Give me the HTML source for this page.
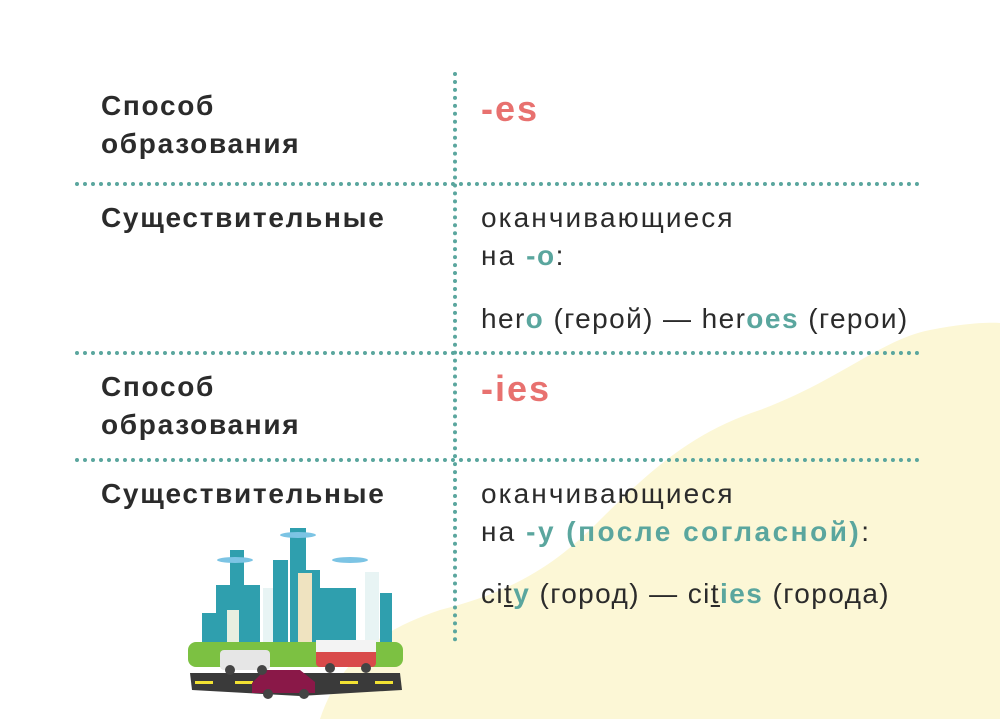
<!DOCTYPE html>
<html><head><meta charset="utf-8"><style>
body{margin:0;width:1000px;height:719px;background:#fff;position:relative;overflow:hidden;font-family:"Liberation Sans","DejaVu Sans",sans-serif;color:#2b2b2b}
.t{position:absolute;font-size:28px;line-height:38px;letter-spacing:2.1px;white-space:nowrap}
.b{font-weight:bold;letter-spacing:1.7px}
.r{color:#e8716f;font-weight:bold;font-size:36px;letter-spacing:2px}
.g{color:#5aa69e;font-weight:bold;letter-spacing:1.5px}
.g2{color:#5aa69e;font-weight:bold;letter-spacing:2.5px}
.s{letter-spacing:1.4px}
.hl{position:absolute;left:75px;width:845px;height:0;border-top:4px dotted #5aa69e}
.vl{position:absolute;left:453px;top:72px;height:570px;border-left:4px dotted #5aa69e}
</style></head><body>
<svg style="position:absolute;left:0;top:0" width="1000" height="719">
<path d="M320 719 C340 660 380 630 440 610 C520 590 560 560 600 520 C660 460 700 430 760 410 C840 380 880 340 930 330 C960 324 985 322 1000 323 L1000 719 Z" fill="#fcf7d6"/>
</svg>
<div class="vl"></div>
<div class="hl" style="top:182px"></div>
<div class="hl" style="top:351px"></div>
<div class="hl" style="top:458px"></div>
<div class="t b" style="left:101px;top:87px">Способ<br>образования</div>
<div class="t r" style="left:481px;top:90px">-es</div>
<div class="t b" style="left:101px;top:199px">Существительные</div>
<div class="t" style="left:481px;top:199px">оканчивающиеся<br>на <span class="g">-o</span>:</div>
<div class="t s" style="left:481px;top:300px">her<span class="g">o</span> (герой) — her<span class="g">oes</span> (герои)</div>
<div class="t b" style="left:101px;top:368px">Способ<br>образования</div>
<div class="t r" style="left:481px;top:370px">-ies</div>
<div class="t b" style="left:101px;top:475px">Существительные</div>
<div class="t" style="left:481px;top:475px">оканчивающиеся<br>на <span class="g2">-y (после согласной)</span>:</div>
<div class="t s" style="left:481px;top:575px">ci<u>t</u><span class="g">y</span> (город) — ci<u>t</u><span class="g">ies</span> (города)</div>
<svg style="position:absolute;left:180px;top:510px" width="240" height="200">
<g fill="#2f9fae">
<rect x="22" y="103" width="20" height="30"/><rect x="36" y="75" width="26" height="60"/><rect x="50" y="40" width="14" height="95"/>
<rect x="62" y="75" width="18" height="60"/><rect x="93" y="50" width="15" height="85"/><rect x="110" y="18" width="16" height="117"/>
<rect x="126" y="60" width="14" height="75"/><rect x="140" y="78" width="20" height="57"/><rect x="160" y="78" width="16" height="57"/><rect x="200" y="83" width="12" height="52"/>
</g>
<rect x="83" y="78" width="10" height="57" fill="#e8f4f4"/><rect x="118" y="63" width="14" height="72" fill="#efe3c0"/><rect x="185" y="62" width="14" height="73" fill="#e8f4f4"/>
<rect x="47" y="100" width="12" height="35" fill="#e8efe0"/>
<rect x="8" y="132" width="215" height="25" rx="8" fill="#7cc142"/>
<path d="M10 163 L220 163 L222 180 L120 186 L12 180 Z" fill="#3a3a3a"/>
<g fill="#f2e233"><rect x="15" y="171" width="18" height="3"/><rect x="55" y="171" width="18" height="3"/><rect x="160" y="171" width="18" height="3"/><rect x="195" y="171" width="18" height="3"/></g>
<rect x="40" y="140" width="50" height="20" rx="4" fill="#e6e6e6"/>
<rect x="136" y="130" width="60" height="27" rx="4" fill="#d94a4a"/><rect x="136" y="130" width="60" height="12" fill="#f3f3f3"/>
<path d="M72 173 L85 160 L120 160 L135 172 L135 183 L72 183 Z" fill="#8a1848"/>
<g fill="#444"><circle cx="50" cy="160" r="5"/><circle cx="82" cy="160" r="5"/><circle cx="150" cy="158" r="5"/><circle cx="186" cy="158" r="5"/><circle cx="88" cy="184" r="5"/><circle cx="124" cy="184" r="5"/></g>
<g fill="#7cc4e4"><ellipse cx="55" cy="50" rx="18" ry="3"/><ellipse cx="118" cy="25" rx="18" ry="3"/><ellipse cx="170" cy="50" rx="18" ry="3"/></g>
</svg>
</body></html>
